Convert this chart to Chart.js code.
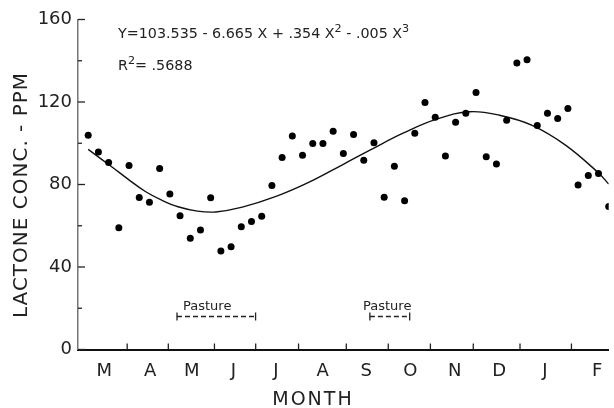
<!DOCTYPE html>
<html>
<head>
<meta charset="utf-8">
<script src="https://cdn.jsdelivr.net/npm/chart.js@4.4.1/dist/chart.umd.min.js"></script>
<style>
  body { margin: 0; background: #fff; }
  #wrap { width: 614px; height: 408px; position: relative; }
</style>
</head>
<body>
<div id="wrap"><canvas id="lactoneChart"></canvas></div>
<script>
// weekly samples, March -> February
const weeks = [1, 2, 3, 4, 5, 6, 7, 8, 9, 10, 11, 12, 13, 14, 15, 16, 17, 18, 19, 20,
               21, 22, 23, 24, 25, 26, 27, 28, 29, 30, 31, 32, 33, 34, 35, 36, 37, 38, 39, 40,
               41, 42, 43, 44, 45, 46, 47, 48, 49, 50, 51, 52];
const lactone = [103.9, 95.8, 90.7, 59.0, 89.2, 73.7, 71.4, 87.7, 75.4, 64.8,
                 54.0, 57.9, 73.6, 47.8, 49.8, 59.5, 62.1, 64.6, 79.5, 93.1,
                 103.5, 94.2, 99.9, 99.9, 105.8, 95.0, 104.2, 91.8, 100.3, 73.8,
                 88.9, 72.1, 104.8, 119.7, 112.6, 93.8, 110.2, 114.5, 124.6, 93.4,
                 90.0, 111.1, 138.9, 140.5, 108.6, 114.5, 112.0, 116.9, 79.8, 84.4,
                 85.3, 69.3];

// fitted curve
const curveWeeks = [1, 3.3, 4.9, 6.6, 8.2, 9.8, 11.7, 13.5, 16.1, 19.4, 22.6, 26.0,
                    28.7, 31.9, 35.2, 38.4, 41.3, 44.5, 47.8, 51.0, 52];
const curveValues = [97.0, 88.6, 82.6, 76.6, 72.4, 69.2, 67.1, 66.7, 69.0, 74.2, 81.0, 89.8,
                     96.9, 105.0, 111.8, 115.3, 113.6, 108.7, 99.0, 85.6, 80.2];

const monthLabels = ['M', 'A', 'M', 'J', 'J', 'A', 'S', 'O', 'N', 'D', 'J', 'F'];
const monthCenters = [2.57, 7.07, 11.14, 15.22, 19.38, 23.98, 28.25, 32.56, 36.92, 41.28, 45.74, 50.87];
const monthEdges = [4.82, 8.85, 13.37, 17.41, 21.61, 26.29, 30.4, 34.53, 38.73, 43.31, 48.35];

const yLabelTicks = [0, 40, 80, 120, 160];
const yMinorTicks = [20, 60, 100, 140];

const pastureStart = [9.7, 28.6];
const pastureEnd = [17.4, 32.5];
const pastureLevel = 16;

const textColor = '#222';
const fontFamily = '"DejaVu Sans", sans-serif';

function drawParts(ctx, parts, x, y, size) {
    // parts: [text, isSuperscript]
    parts.forEach(([txt, sup]) => {
        ctx.font = (sup ? size * 0.78 : size) + 'px ' + fontFamily;
        ctx.fillText(txt, x, sup ? y - size * 0.45 : y);
        x += ctx.measureText(txt).width;
    });
}

const annotations = {
    id: 'annotations',
    afterDraw(chart) {
        const ctx = chart.ctx;
        const xs = chart.scales.x;
        const ys = chart.scales.y;
        ctx.save();
        ctx.strokeStyle = '#222';
        ctx.lineWidth = 1.3;

        // inward tick marks
        const left = xs.left;
        yLabelTicks.forEach(v => {
            const py = ys.getPixelForValue(v);
            ctx.beginPath(); ctx.moveTo(left, py); ctx.lineTo(left + 7, py); ctx.stroke();
        });
        yMinorTicks.forEach(v => {
            const py = ys.getPixelForValue(v);
            ctx.beginPath(); ctx.moveTo(left, py); ctx.lineTo(left + 4, py); ctx.stroke();
        });
        const bottom = ys.bottom;
        monthEdges.forEach(v => {
            const px = xs.getPixelForValue(v);
            ctx.beginPath(); ctx.moveTo(px, bottom); ctx.lineTo(px, bottom - 6); ctx.stroke();
        });

        ctx.fillStyle = textColor;
        ctx.textBaseline = 'alphabetic';
        ctx.textAlign = 'left';

        // equation and R squared
        drawParts(ctx, [['Y=103.535 - 6.665 X + .354 X', false], ['2', true],
                        [' - .005 X', false], ['3', true]], 118, 38, 14.3);
        drawParts(ctx, [['R', false], ['2', true], ['= .5688', false]], 118, 70, 14.3);

        // pasture labels
        ctx.font = '13px ' + fontFamily;
        ctx.fillText('Pasture', 183, 310);
        ctx.fillText('Pasture', 363, 310);

        // axis titles
        ctx.textAlign = 'center';
        ctx.textBaseline = 'middle';
        ctx.font = '19px ' + fontFamily;
        ctx.letterSpacing = '2px';
        ctx.fillText('MONTH', 313, 400);
        ctx.save();
        ctx.translate(22, 195);
        ctx.rotate(-Math.PI / 2);
        ctx.font = '20px ' + fontFamily;
        ctx.letterSpacing = '1px';
        ctx.fillText('LACTONE CONC. - PPM', 0, 0);
        ctx.restore();
        ctx.restore();
    }
};

const pastureSets = pastureStart.map((s, i) => ({
    type: 'line',
    data: [{x: s, y: pastureLevel}, {x: pastureEnd[i], y: pastureLevel}],
    borderColor: '#222',
    borderWidth: 1.3,
    borderDash: [5, 3],
    pointStyle: 'line',
    rotation: 90,
    pointRadius: 4,
    pointBorderWidth: 1.3,
    pointBorderColor: '#222'
}));

const ctx = document.getElementById('lactoneChart').getContext('2d');
new Chart(ctx, {
    type: 'scatter',
    data: {
        datasets: [
            {
                data: weeks.map((w, i) => ({x: w, y: lactone[i]})),
                pointRadius: 3.5,
                pointBackgroundColor: '#000',
                pointBorderWidth: 0
            },
            {
                type: 'line',
                data: curveWeeks.map((w, i) => ({x: w, y: curveValues[i]})),
                borderColor: '#111',
                borderWidth: 1.4,
                pointRadius: 0,
                tension: 0.4
            },
            ...pastureSets
        ]
    },
    options: {
        responsive: true,
        maintainAspectRatio: false,
        animation: false,
        layout: { padding: { top: 19.5, right: 0, bottom: 0, left: 0 } },
        plugins: {
            legend: { display: false },
            tooltip: { enabled: false }
        },
        scales: {
            x: {
                type: 'linear',
                min: 0,
                max: 52,
                afterBuildTicks: s => { s.ticks = monthCenters.map(v => ({value: v})); },
                afterFit: s => { s.height = 58.5; },
                grid: { drawOnChartArea: false, drawTicks: false },
                border: { color: '#111', width: 2 },
                ticks: {
                    autoSkip: false,
                    maxRotation: 0,
                    padding: 11,
                    color: textColor,
                    font: { family: fontFamily, size: 18 },
                    callback: (v, i) => monthLabels[i]
                }
            },
            y: {
                min: 0,
                max: 160,
                afterFit: s => { s.width = 78; },
                grid: { drawOnChartArea: false, drawTicks: false },
                border: { color: '#777', width: 1.5 },
                ticks: {
                    stepSize: 20,
                    padding: 6,
                    color: textColor,
                    font: { family: fontFamily, size: 18 },
                    callback: v => (v % 40 === 0 ? v : '')
                }
            }
        }
    },
    plugins: [annotations]
});
</script>
</body>
</html>
